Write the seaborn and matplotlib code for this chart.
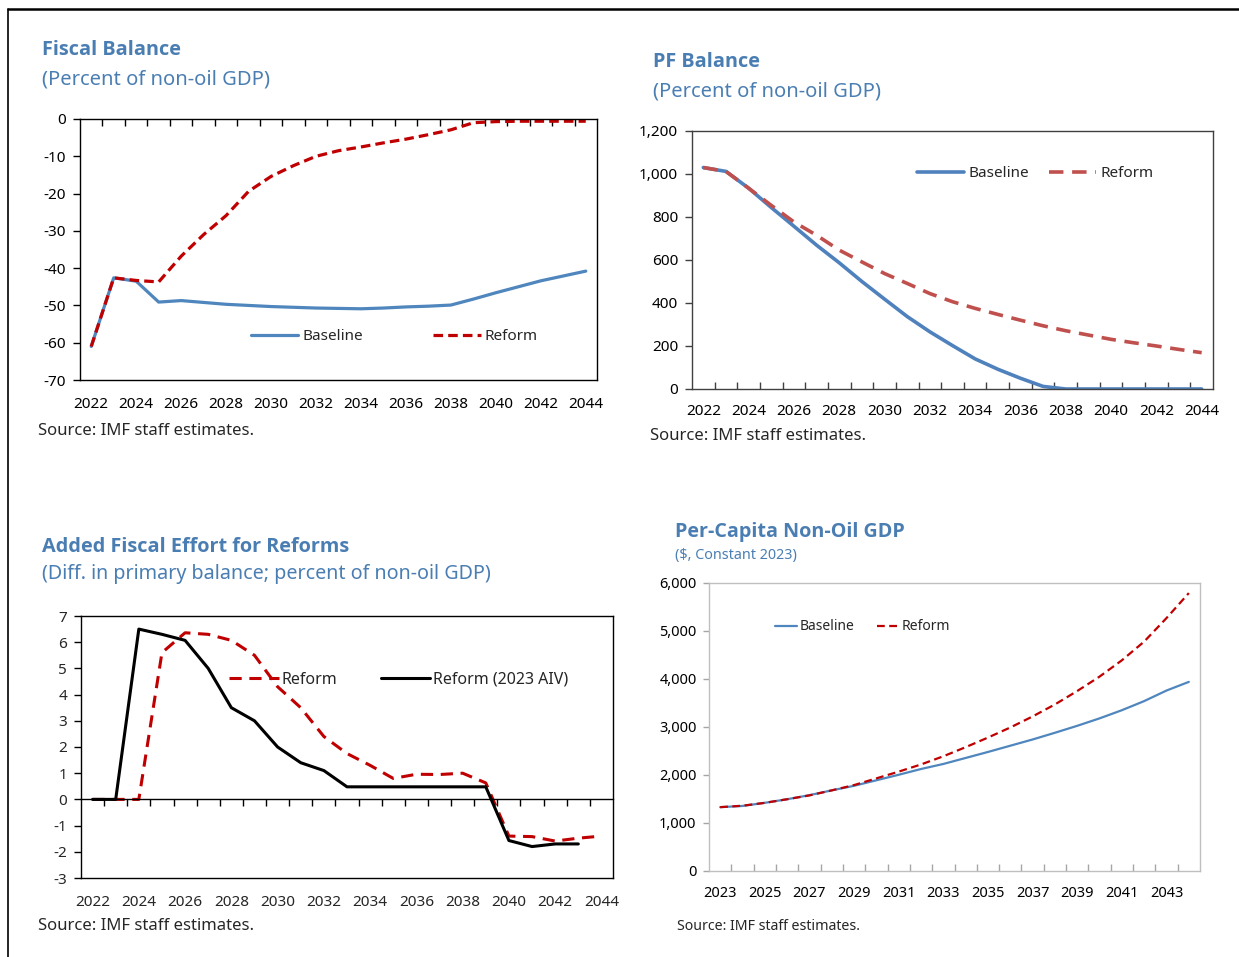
import matplotlib
matplotlib.use("Agg")
import matplotlib.pyplot as plt
from matplotlib.lines import Line2D
from matplotlib import font_manager
import seaborn as sns
import pandas as pd

# ---------------- data ----------------
years_a = list(range(2022, 2045))
fiscal_baseline = [-61.0, -42.6, -43.5, -49.1, -48.7, -49.2, -49.7, -50.0, -50.3, -50.5, -50.7, -50.8,
                   -50.9, -50.7, -50.4, -50.2, -49.9, -48.3, -46.6, -45.0, -43.4, -42.1, -40.8]
fiscal_reform = [-61.0, -42.6, -43.3, -43.7, -36.8, -31.0, -25.9, -19.4, -15.4, -12.5, -10.0, -8.5,
                 -7.5, -6.4, -5.4, -4.2, -2.9, -1.0, -0.7, -0.6, -0.6, -0.6, -0.6]

pf_baseline = [1030, 1012, 934, 844, 757, 669, 587, 500, 418, 337, 266, 202,
               140, 92, 50, 12, 0, 0, 0, 0, 0, 0, 0]
pf_reform = [1030, 1012, 934, 854, 777, 715, 646, 591, 537, 491, 444, 406,
             375, 347, 320, 294, 271, 251, 231, 215, 200, 184, 169]

effort_reform = [0, 0, 0, 5.6, 6.36, 6.3, 6.07, 5.5, 4.3, 3.5, 2.4, 1.75,
                 1.3, 0.8, 0.96, 0.95, 1.0, 0.63, -1.4, -1.42, -1.59, -1.48, -1.4]
years_aiv = list(range(2022, 2044))
effort_aiv = [0, 0, 6.5, 6.3, 6.07, 5.0, 3.5, 3.0, 2.0, 1.4, 1.1, 0.48,
              0.48, 0.48, 0.48, 0.48, 0.48, 0.48, -1.57, -1.8, -1.7, -1.7]

years_b = list(range(2023, 2045))
gdp_baseline = [1330, 1355, 1420, 1495, 1580, 1680, 1775, 1890, 2005, 2125, 2230,
                2355, 2480, 2610, 2740, 2880, 3025, 3180, 3350, 3540, 3760, 3940]
gdp_reform = [1330, 1360, 1420, 1495, 1575, 1680, 1790, 1930, 2070, 2220, 2390,
              2580, 2780, 2990, 3220, 3470, 3750, 4050, 4390, 4780, 5270, 5790]

labels_a = list(range(2022, 2045, 2))
labels_b = list(range(2023, 2044, 2))

# ---------------- style ----------------
sns.set_style("white")
plt.rcParams["font.family"] = ["Noto Sans", "DejaVu Sans"]
plt.rcParams["axes.linewidth"] = 1.0
plt.rcParams["axes.unicode_minus"] = False

# pick a family that really has a bold face
BOLD_FAMILY = "DejaVu Sans"
for fam in ["Open Sans", "Noto Sans", "Lato", "Liberation Sans"]:
    try:
        p = font_manager.findfont(font_manager.FontProperties(family=fam, weight="bold"),
                                  fallback_to_default=False)
        if "bold" in p.lower() or "black" in p.lower() or "opensans" in p.lower().replace(" ", "").replace("-", ""):
            BOLD_FAMILY = fam
            break
    except Exception:
        pass

W, H = 1239, 957
fig = plt.figure(figsize=(W / 100, H / 100), dpi=100)

TITLE_C = "#4a7eb3"
BLUE = "#4f86bd"
BLUE2 = "#4f81bd"
RED = "#c00000"
RED2 = "#c0504d"


def axes_px(l, t, r, b):
    return fig.add_axes([l / W, 1 - b / H, (r - l) / W, (b - t) / H])


def ftext(x, y, s, **kw):
    fig.text(x / W, 1 - y / H, s, va="center", ha="left", **kw)


def title(x, y, s, size):
    ftext(x, y, s, fontsize=size, fontweight="bold", color=TITLE_C, family=[BOLD_FAMILY, "DejaVu Sans"])


def cat_x(ax, years, label_years, pad):
    ax.set_xlim(years[0] - 0.5, years[-1] + 0.5)
    ax.set_xticks(label_years)
    ax.set_xticklabels([str(y) for y in label_years])
    ax.set_xticks([y + 0.5 for y in years[:-1]], minor=True)
    ax.tick_params(axis="x", which="major", length=0, pad=pad)


# ---------------- panel 1: Fiscal balance ----------------
ax1 = axes_px(80, 119, 597, 380)
df1 = pd.DataFrame({"year": years_a, "Baseline": fiscal_baseline, "Reform": fiscal_reform})
sns.lineplot(data=df1, x="year", y="Baseline", ax=ax1, color=BLUE, lw=2.3, label="Baseline")
sns.lineplot(data=df1, x="year", y="Reform", ax=ax1, color=RED, lw=2.3,
             linestyle=(0, (3, 1.6)), label="Reform")
ax1.set_ylim(-70, 0)
ax1.set_yticks(range(-70, 1, 10))
cat_x(ax1, years_a, labels_a, 12)
ax1.tick_params(axis="x", which="minor", bottom=False, top=True, direction="in", length=5, width=1, color="black")
ax1.tick_params(axis="y", left=True, direction="out", length=5, width=1, color="black", pad=5)
ax1.tick_params(labelsize=11, labelcolor="black")
for s in ax1.spines.values():
    s.set_color("black")
ax1.set_xlabel("")
ax1.set_ylabel("")
ax1.legend(loc="center left", bbox_to_anchor=((251 - 80) / 517, (380 - 337) / 261), ncol=2,
           frameon=False, fontsize=11, handlelength=3.1, handletextpad=0.26, columnspacing=4.6,
           borderpad=0, borderaxespad=0)

title(42, 50, "Fiscal Balance", 14.3)
ftext(42, 79, "(Percent of non-oil GDP)", fontsize=14.5, color=TITLE_C)
ftext(38, 431, "Source: IMF staff estimates.", fontsize=12)

# ---------------- panel 2: PF balance ----------------
ax2 = axes_px(692, 131, 1213, 389)
df2 = pd.DataFrame({"year": years_a, "Baseline": pf_baseline, "Reform": pf_reform})
sns.lineplot(data=df2, x="year", y="Baseline", ax=ax2, color=BLUE2, lw=2.6, label="Baseline")
sns.lineplot(data=df2, x="year", y="Reform", ax=ax2, color=RED2, lw=2.6,
             linestyle=(0, (4, 2.4)), label="Reform")
ax2.set_ylim(0, 1200)
ax2.set_yticks(range(0, 1201, 200))
ax2.set_yticklabels([f"{v:,}" for v in range(0, 1201, 200)])
cat_x(ax2, years_a, labels_a, 11)
ax2.tick_params(axis="x", which="minor", bottom=True, direction="in", length=5, width=1, color="#404040")
ax2.tick_params(axis="y", left=True, direction="out", length=5, width=1, color="#404040", pad=5)
ax2.tick_params(labelsize=11, labelcolor="black")
for s in ax2.spines.values():
    s.set_color("#404040")
ax2.set_xlabel("")
ax2.set_ylabel("")
ax2.legend(loc="center left", bbox_to_anchor=((917 - 692) / 521, (389 - 174) / 258), ncol=2,
           frameon=False, fontsize=11, handlelength=3.1, handletextpad=0.26, columnspacing=1.3,
           borderpad=0, borderaxespad=0)

title(653, 62, "PF Balance", 14.3)
ftext(653, 91, "(Percent of non-oil GDP)", fontsize=14.5, color=TITLE_C)
ftext(650, 436, "Source: IMF staff estimates.", fontsize=12)

# ---------------- panel 3: Added fiscal effort ----------------
ax3 = axes_px(81, 616, 613, 878)
df3a = pd.DataFrame({"year": years_a, "Reform": effort_reform})
df3b = pd.DataFrame({"year": years_aiv, "AIV": effort_aiv})
sns.lineplot(data=df3a, x="year", y="Reform", ax=ax3, color=RED, lw=2.2,
             linestyle=(0, (4, 2.5)), label="Reform")
sns.lineplot(data=df3b, x="year", y="AIV", ax=ax3, color="black", lw=2.2, label="Reform (2023 AIV)")
ax3.set_ylim(-3, 7)
ax3.set_yticks(range(-3, 8))
cat_x(ax3, years_a, labels_a, 12)
ax3.spines["bottom"].set_position(("data", 0))
ax3.tick_params(axis="x", which="minor", bottom=True, direction="out", length=5, width=1, color="black")
ax3.tick_params(axis="x", which="major", labelbottom=False)
ax3.tick_params(axis="y", left=True, direction="out", length=5, width=1, color="black", pad=5, labelsize=11)
for s in ax3.spines.values():
    s.set_color("black")
sec = ax3.secondary_xaxis("bottom")
sec.set_xticks(labels_a)
sec.set_xticklabels([str(y) for y in labels_a])
sec.tick_params(length=0, pad=12, labelsize=11)
sec.spines["bottom"].set_color("black")
ax3.set_xlabel("")
ax3.set_ylabel("")
ax3.legend(loc="center left", bbox_to_anchor=((229 - 81) / 532, (878 - 680) / 262), ncol=2,
           frameon=False, fontsize=11.5, handlelength=3.1, handletextpad=0.2, columnspacing=2.7,
           borderpad=0, borderaxespad=0)

title(42, 547, "Added Fiscal Effort for Reforms", 14.3)
ftext(42, 574, "(Diff. in primary balance; percent of non-oil GDP)", fontsize=14.2, color=TITLE_C)
ftext(38, 926, "Source: IMF staff estimates.", fontsize=12)

# ---------------- panel 4: Per-capita non-oil GDP ----------------
ax4 = axes_px(709, 583, 1200, 871)
df4 = pd.DataFrame({"year": years_b, "Baseline": gdp_baseline, "Reform": gdp_reform})
sns.lineplot(data=df4, x="year", y="Baseline", ax=ax4, color=BLUE, lw=1.6, label="Baseline")
sns.lineplot(data=df4, x="year", y="Reform", ax=ax4, color=RED, lw=1.6,
             linestyle=(0, (3.5, 2)), label="Reform")
ax4.set_ylim(0, 6000)
ax4.set_yticks(range(0, 6001, 1000))
ax4.set_yticklabels([f"{v:,}" for v in range(0, 6001, 1000)])
cat_x(ax4, years_b, labels_b, 11)
ax4.tick_params(axis="x", which="minor", bottom=True, direction="in", length=5, width=1, color="#a6a6a6")
ax4.tick_params(axis="y", left=True, direction="out", length=4, width=1, color="#a6a6a6", pad=5)
ax4.tick_params(labelsize=10.5, labelcolor="black")
for s in ax4.spines.values():
    s.set_color("#bfbfbf")
ax4.set_xlabel("")
ax4.set_ylabel("")
ax4.legend(loc="center left", bbox_to_anchor=((775 - 709) / 491, (871 - 627) / 288), ncol=2,
           frameon=False, fontsize=10, handlelength=1.6, handletextpad=0.15, columnspacing=1.65,
           borderpad=0, borderaxespad=0)

title(675, 532, "Per-Capita Non-Oil GDP", 14.2)
ftext(675, 555, "($, Constant 2023)", fontsize=10.3, color=TITLE_C)
ftext(677, 926, "Source: IMF staff estimates.", fontsize=10.2)

# ---------------- outer frame ----------------
fig.add_artist(Line2D([8 / W, 1], [1 - 9 / H, 1 - 9 / H], transform=fig.transFigure, color="black", lw=1.8))
fig.add_artist(Line2D([8 / W, 8 / W], [1 - 9 / H, 0], transform=fig.transFigure, color="black", lw=1.2))

fig.savefig("out.png", dpi=100)
